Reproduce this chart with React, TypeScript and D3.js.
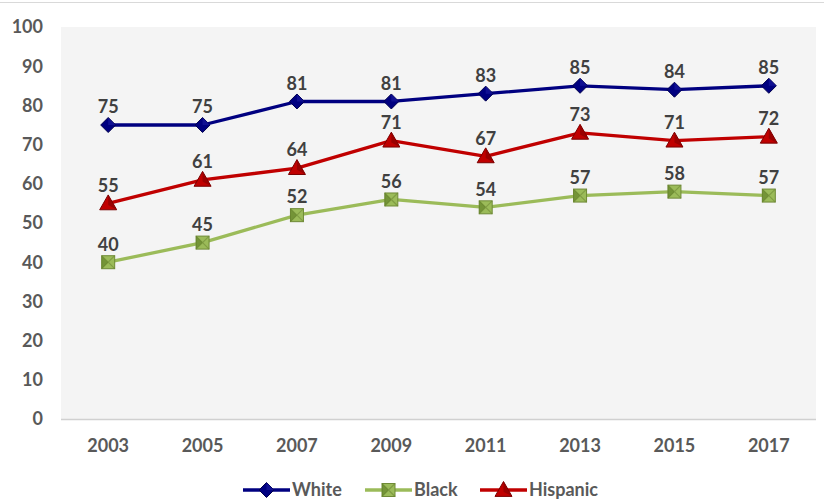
import React from "react";
import * as d3 from "d3";

const years = ["2003", "2005", "2007", "2009", "2011", "2013", "2015", "2017"];
const white = [75, 75, 81, 81, 83, 85, 84, 85];
const black = [40, 45, 52, 56, 54, 57, 58, 57];
const hispanic = [55, 61, 64, 71, 67, 73, 71, 72];
const yTicks = [0, 10, 20, 30, 40, 50, 60, 70, 80, 90, 100];

const W = 824, H = 502;
const plot = { left: 61, right: 816, top: 27, bottom: 419 };
const FONT = "Lato, 'Open Sans', sans-serif";

const series = [
  { name: "White", values: white, color: "#000080", dark: "#00004d", marker: "diamond" },
  { name: "Black", values: black, color: "#9BBB59", dark: "#6f8a36", marker: "square" },
  { name: "Hispanic", values: hispanic, color: "#C00000", dark: "#7a0000", marker: "triangle" },
];

function Marker({ type, x, y, color, dark }: { type: string; x: number; y: number; color: string; dark: string }) {
  if (type === "diamond") {
    const r = 7.5;
    return (
      <g>
        <path d={`M${x},${y - r}L${x + r},${y}L${x},${y + r}L${x - r},${y}Z`} fill={color} stroke={dark} strokeWidth={1} />
        <path d={`M${x},${y - r}L${x + r},${y}L${x},${y}Z`} fill="#1a1aa0" opacity={0.6} />
      </g>
    );
  }
  if (type === "square") {
    const r = 6.5;
    return (
      <g>
        <rect x={x - r} y={y - r} width={2 * r} height={2 * r} fill={color} stroke={dark} strokeWidth={1} />
        <path d={`M${x - r},${y - r}L${x + r},${y + r}M${x + r},${y - r}L${x - r},${y + r}`} stroke={dark} strokeWidth={1.2} opacity={0.6} />
        <path d={`M${x - r},${y - r}L${x},${y}L${x - r},${y + r}Z`} fill="#5a7a22" opacity={0.6} />
      </g>
    );
  }
  const r = 8.5;
  return (
    <g>
      <path d={`M${x},${y - r}L${x + r},${y + r * 0.75}L${x - r},${y + r * 0.75}Z`} fill={color} stroke={dark} strokeWidth={1} />
      <path d={`M${x},${y - r}L${x + r},${y + r * 0.75}L${x},${y + r * 0.2}Z`} fill="#8a0000" opacity={0.7} />
    </g>
  );
}

export default function App() {
  React.useEffect(() => {
    document.body.style.margin = "0";
  }, []);
  const x = d3.scaleBand<string>().domain(years).range([plot.left, plot.right]);
  const y = d3.scaleLinear().domain([0, 100]).range([plot.bottom, plot.top]);
  const cx = (yr: string) => (x(yr) as number) + x.bandwidth() / 2;
  const line = (vals: number[]) =>
    d3.line<number>().x((_, i) => cx(years[i])).y((v) => y(v))(vals) as string;

  const legendItems = [
    { s: series[0], x0: 243, tx: 292 },
    { s: series[1], x0: 365, tx: 414 },
    { s: series[2], x0: 480, tx: 529 },
  ];

  return (
    <svg width={W} height={H} style={{ display: "block", position: "absolute", left: 0, top: 0 }} fontFamily={FONT}>
      <rect x={0} y={0} width={W} height={H} fill="#ffffff" />
      <line x1={0} x2={W} y1={2.5} y2={2.5} stroke="#d9d9d9" strokeWidth={1} />
      <rect x={plot.left} y={plot.top} width={plot.right - plot.left} height={plot.bottom - plot.top} fill="#F4F4F4" />
      <line x1={plot.left} x2={plot.right} y1={plot.bottom + 0.5} y2={plot.bottom + 0.5} stroke="#d0d0d0" strokeWidth={1.5} />
      {yTicks.map((t) => (
        <text key={t} x={43} y={y(t)} dy="0.35em" textAnchor="end" fontSize={18} fontWeight="bold" fill="#595959">
          {t}
        </text>
      ))}
      {years.map((yr) => (
        <text key={yr} x={cx(yr)} y={446} dy="0.35em" textAnchor="middle" fontSize={18} fontWeight="bold" fill="#595959">
          {yr}
        </text>
      ))}
      {series.map((s) => (
        <g key={s.name}>
          <path d={line(s.values)} fill="none" stroke={s.color} strokeWidth={3.3} strokeLinejoin="round" />
          {s.values.map((v, i) => (
            <Marker key={i} type={s.marker} x={cx(years[i])} y={y(v)} color={s.color} dark={s.dark} />
          ))}
          {s.values.map((v, i) => (
            <text key={"l" + i} x={cx(years[i])} y={y(v) - 18} dy="0.35em" textAnchor="middle" fontSize={18} fontWeight="bold" fill="#404040">
              {v}
            </text>
          ))}
        </g>
      ))}
      {legendItems.map(({ s, x0, tx }) => (
        <g key={s.name}>
          <line x1={x0} x2={x0 + 47} y1={490} y2={490} stroke={s.color} strokeWidth={3.3} />
          <Marker type={s.marker} x={x0 + 23.5} y={490} color={s.color} dark={s.dark} />
          <text x={tx} y={490} dy="0.35em" fontSize={18} fontWeight="bold" fill="#595959">
            {s.name}
          </text>
        </g>
      ))}
    </svg>
  );
}
